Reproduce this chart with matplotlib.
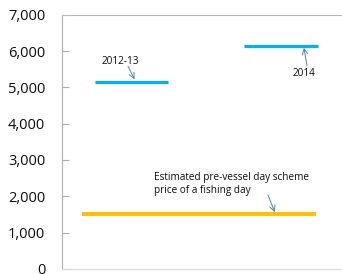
import matplotlib
matplotlib.use('Agg')
from matplotlib import pyplot as plt

# price levels
series = ['2012-13', '2014', 'Estimated pre-vessel day scheme\nprice of a fishing day']
values = [5150, 6150, 1500]
x_start = [0.118, 0.650, 0.071]
x_end = [0.379, 0.914, 0.907]
colors = ['#00B0F0', '#00B0F0', '#FFC000']
widths = [2.3, 2.3, 2.8]
yticks = [0, 1000, 2000, 3000, 4000, 5000, 6000, 7000]

plt.rcParams['font.family'] = ['Open Sans', 'DejaVu Sans']

fig = plt.figure(figsize=(3.42, 2.74), dpi=100)
ax = fig.add_axes([62 / 342, 0.019, 280 / 342, 0.927])
ax.set_xlim(0, 1)
ax.set_ylim(0, 7000)

for i in range(len(values)):
    ax.plot([x_start[i], x_end[i]], [values[i], values[i]], color=colors[i],
            lw=widths[i], solid_capstyle='butt')

# labels with arrows
arrow = dict(arrowstyle='->', color='#4F81BD', lw=0.7, shrinkA=0, shrinkB=0)
ax.text(0.143, 5720, series[0], fontsize=7.2, color='#0d0d0d',
        ha='left', va='center')
ax.annotate('', xy=(0.259, values[0] + 70), xytext=(0.236, 5580), arrowprops=arrow)
ax.text(0.825, 5390, series[1], fontsize=7.2, color='#0d0d0d',
        ha='left', va='center')
ax.annotate('', xy=(0.864, values[1] - 60), xytext=(0.875, 5600), arrowprops=arrow)
ax.text(0.329, 2330, series[2], fontsize=7.2, color='#0d0d0d',
        ha='left', va='center', linespacing=1.25)
ax.annotate('', xy=(0.76, values[2] + 60), xytext=(0.736, 2030), arrowprops=arrow)

ax.set_yticks(yticks)
ax.set_yticklabels(['{:,}'.format(v) for v in yticks])
ax.set_xticks([])
ax.tick_params(axis='y', direction='in', length=5, width=0.8, color='#b0b0b0',
               labelsize=10.5, pad=12, labelcolor='#0d0d0d')

ax.spines['right'].set_visible(False)
ax.spines['top'].set_color('#b8b8b8')
ax.spines['left'].set_color('#b0b0b0')
ax.spines['bottom'].set_color('#d9d9d9')

fig.savefig('out.png', dpi=100)
